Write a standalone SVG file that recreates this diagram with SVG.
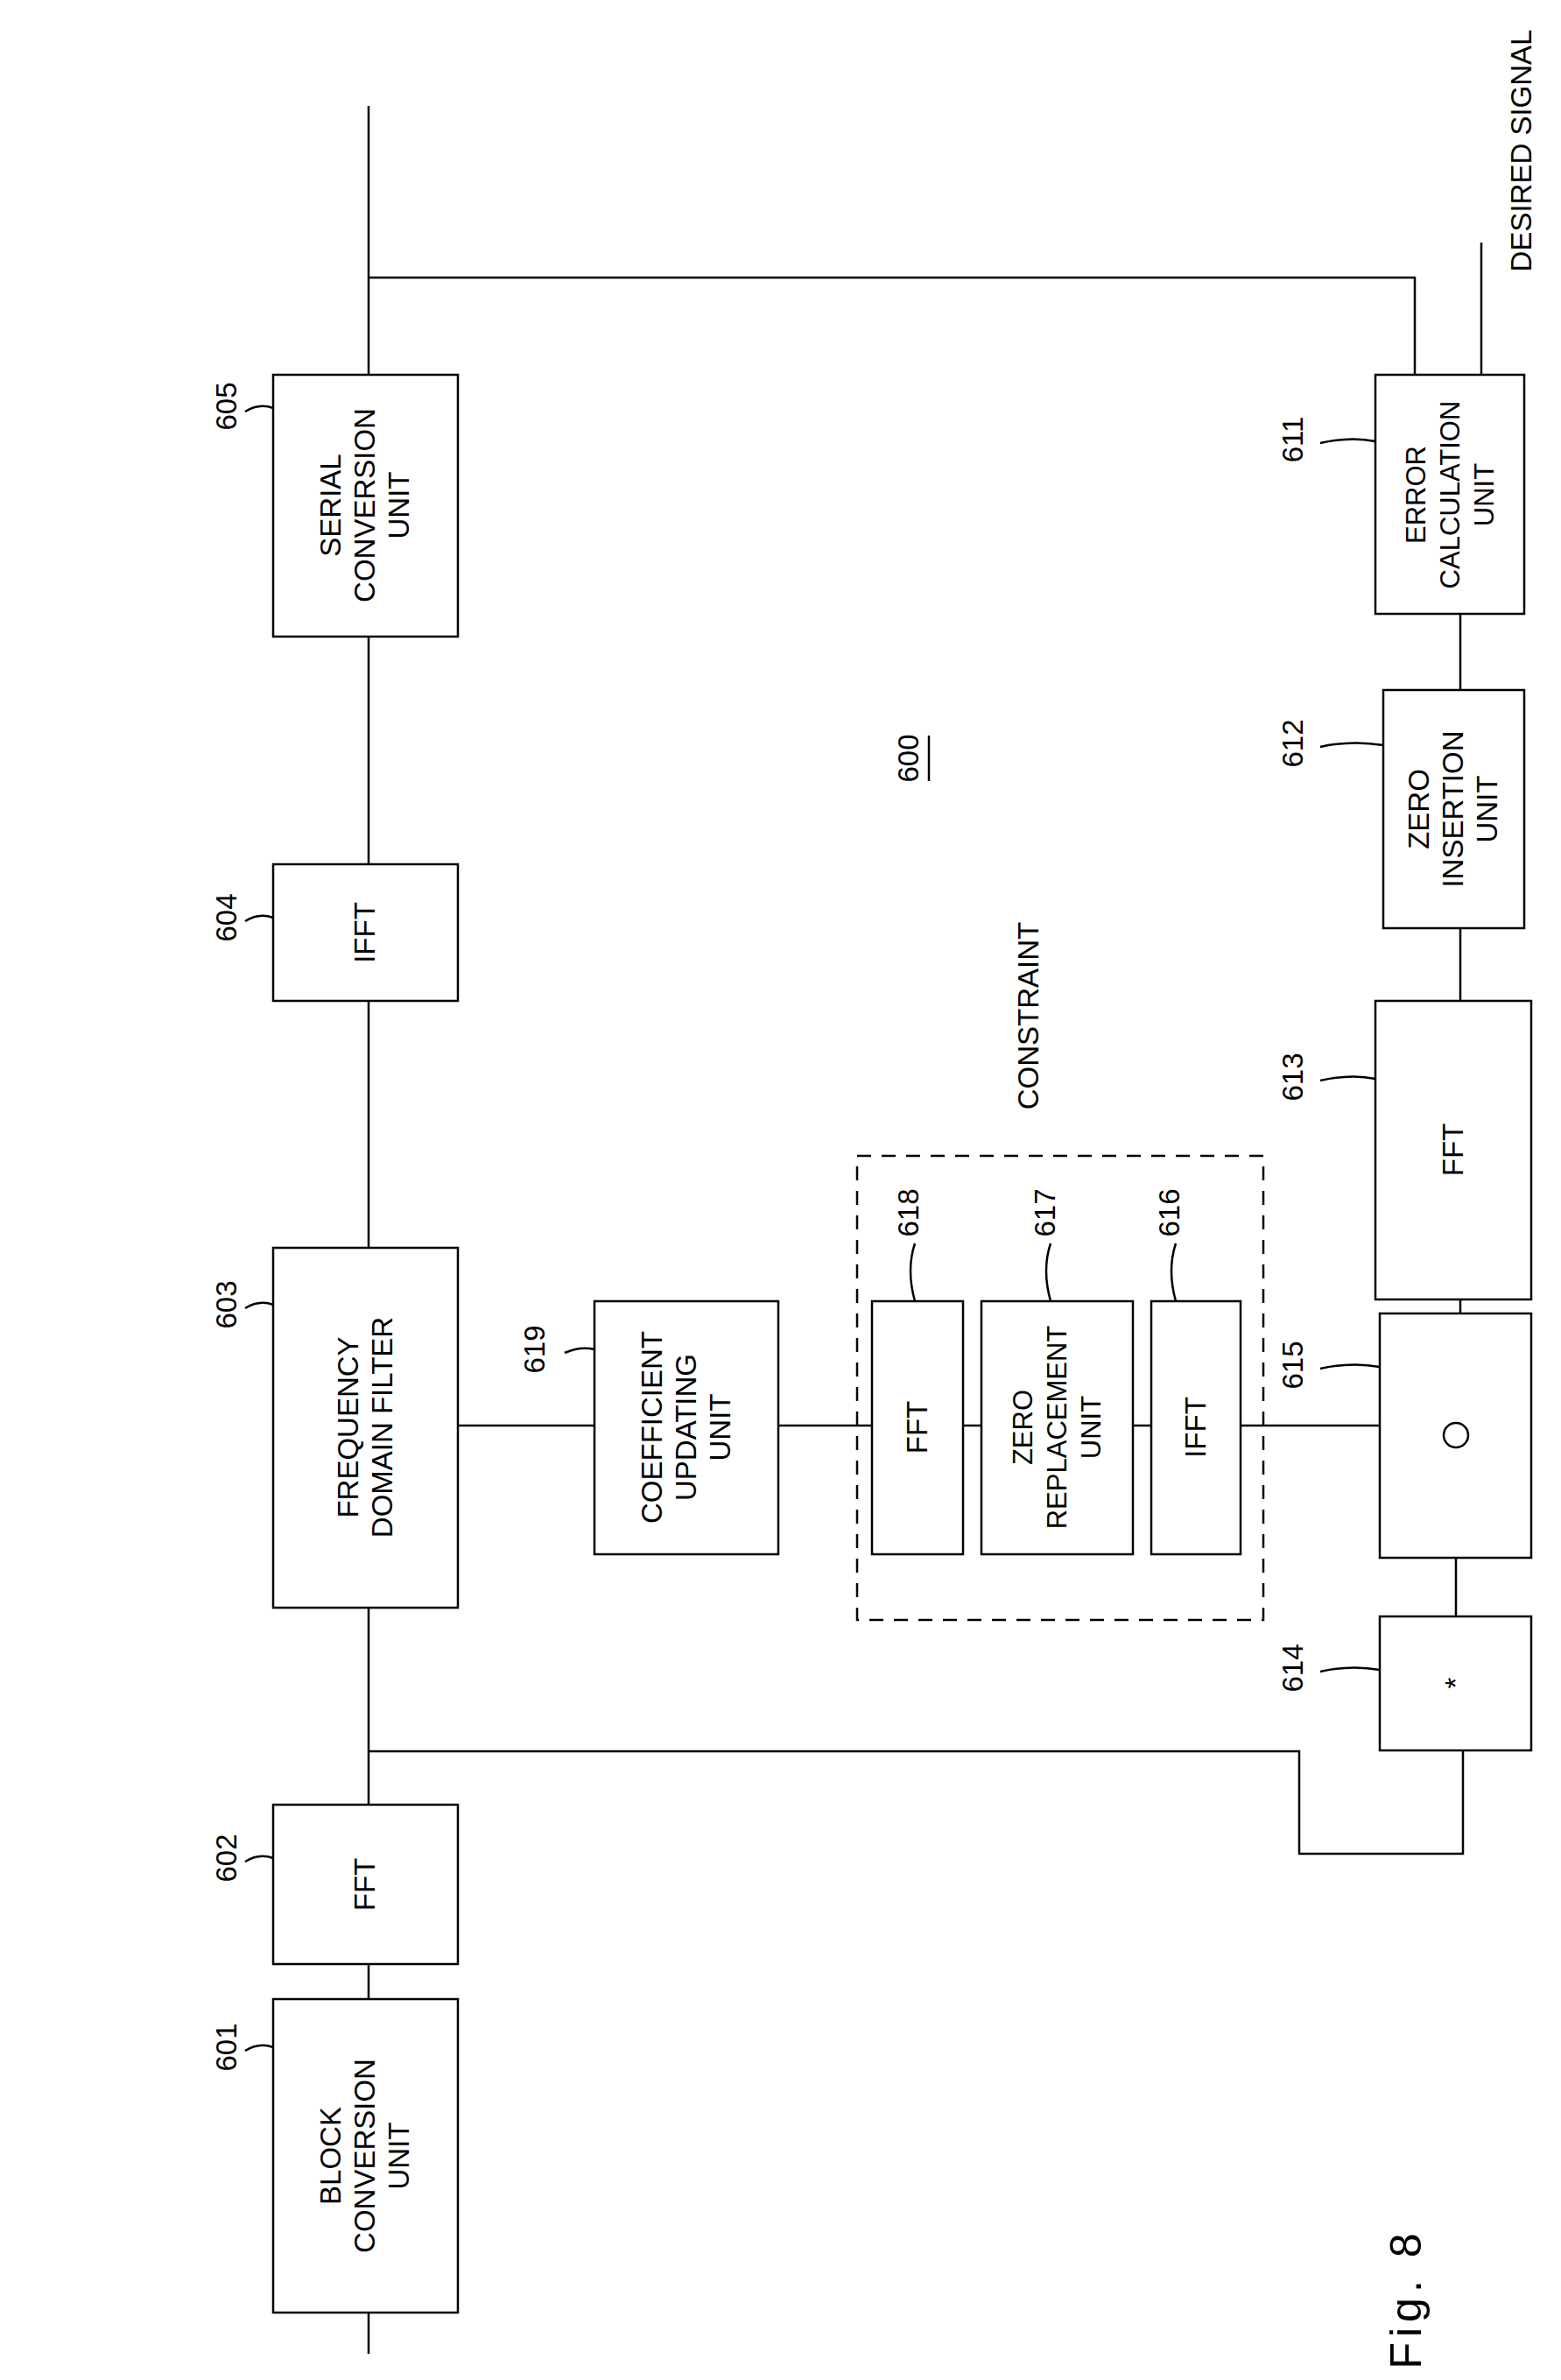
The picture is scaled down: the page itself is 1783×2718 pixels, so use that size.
<svg xmlns="http://www.w3.org/2000/svg" width="1783" height="2718" viewBox="0 0 1783 2718">
<style>
.b{fill:#fff;stroke:#000;stroke-width:2.5}
.l{fill:none;stroke:#000;stroke-width:2.5}
.d{fill:none;stroke:#000;stroke-width:2.5;stroke-dasharray:16 12}
text{font-family:"Liberation Sans",Arial,sans-serif;font-size:33px;text-anchor:middle}
.n{font-size:33px}
</style>
<rect width="1783" height="2718" fill="#fff"/>
<g id="connectors">
<path class="l" d="M421 121V2688"/>
<path class="l" d="M421 317H1616V428"/>
<path class="l" d="M1692 277V428"/>
<path class="l" d="M523 1628H679M889 1628H996M1100 1628H1121M1294 1628H1315M1417 1628H1576"/>
<path class="l" d="M1668 701V788M1668 1060V1143M1668 1484V1500M1663 1779V1846"/>
<path class="l" d="M421 2000H1484V2117H1671V1999"/>
<path class="l" d="M280 470q16-10 32-4M280 1052q16-10 32-4M280 1494q16-10 32-4M280 2126q16-10 32-4M280 2342q16-10 32-4"/>
<path class="l" d="M645 1545q18-8 34 -4M1508 1563q35-8 68-2M1508 1909q35-8 68-2M1508 1234q35-8 63-2M1508 853q35-8 72-2M1508 506q35-8 63-2"/>
<path class="l" d="M1045 1420q-10 30 0 66M1200 1420q-10 30 0 66M1343 1420q-10 30 0 66"/>
</g>
<g id="n605"><rect class="b" x="312" y="428" width="211" height="299"/><text transform="translate(417,577) rotate(-90)"><tspan x="0" y="-28">SERIAL</tspan><tspan x="0" y="11">CONVERSION</tspan><tspan x="0" y="50">UNIT</tspan></text><text class="n" transform="translate(270,464) rotate(-90)">605</text></g>
<g id="n604"><rect class="b" x="312" y="987" width="211" height="156"/><text transform="translate(417,1065) rotate(-90)" y="11">IFFT</text><text class="n" transform="translate(270,1048) rotate(-90)">604</text></g>
<g id="n603"><rect class="b" x="312" y="1425" width="211" height="411"/><text transform="translate(417,1630) rotate(-90)"><tspan x="0" y="-8">FREQUENCY</tspan><tspan x="0" y="31">DOMAIN FILTER</tspan></text><text class="n" transform="translate(270,1490) rotate(-90)">603</text></g>
<g id="n602"><rect class="b" x="312" y="2061" width="211" height="182"/><text transform="translate(417,2152) rotate(-90)" y="11">FFT</text><text class="n" transform="translate(270,2122) rotate(-90)">602</text></g>
<g id="n601"><rect class="b" x="312" y="2283" width="211" height="358"/><text transform="translate(417,2462) rotate(-90)"><tspan x="0" y="-28">BLOCK</tspan><tspan x="0" y="11">CONVERSION</tspan><tspan x="0" y="50">UNIT</tspan></text><text class="n" transform="translate(270,2338) rotate(-90)">601</text></g>
<g id="n619"><rect class="b" x="679" y="1486" width="210" height="289"/><text transform="translate(784,1630) rotate(-90)"><tspan x="0" y="-28">COEFFICIENT</tspan><tspan x="0" y="11">UPDATING</tspan><tspan x="0" y="50">UNIT</tspan></text><text class="n" transform="translate(622,1541) rotate(-90)">619</text></g>
<g id="constraint"><rect class="d" x="979" y="1320" width="464" height="530"/><text transform="translate(1175,1160) rotate(-90)" y="11">CONSTRAINT</text></g>
<g id="n618"><rect class="b" x="996" y="1486" width="104" height="289"/><text transform="translate(1048,1630) rotate(-90)" y="11">FFT</text><text class="n" transform="translate(1049,1385) rotate(-90)">618</text></g>
<g id="n617"><rect class="b" x="1121" y="1486" width="173" height="289"/><text transform="translate(1207,1630) rotate(-90)" style="font-size:31px"><tspan x="0" y="-28">ZERO</tspan><tspan x="0" y="11">REPLACEMENT</tspan><tspan x="0" y="50">UNIT</tspan></text><text class="n" transform="translate(1205,1385) rotate(-90)">617</text></g>
<g id="n616"><rect class="b" x="1315" y="1486" width="102" height="289"/><text transform="translate(1366,1630) rotate(-90)" y="11">IFFT</text><text class="n" transform="translate(1347,1385) rotate(-90)">616</text></g>
<g id="n615"><rect class="b" x="1576" y="1500" width="173" height="279"/><circle cx="1663" cy="1639" r="14" class="l"/><text class="n" transform="translate(1488,1559) rotate(-90)">615</text></g>
<g id="n614"><rect class="b" x="1576" y="1846" width="173" height="153"/><text transform="translate(1663,1922) rotate(-90)" y="11">*</text><text class="n" transform="translate(1488,1905) rotate(-90)">614</text></g>
<g id="n613"><rect class="b" x="1571" y="1143" width="178" height="341"/><text transform="translate(1660,1313) rotate(-90)" y="11">FFT</text><text class="n" transform="translate(1488,1230) rotate(-90)">613</text></g>
<g id="n612"><rect class="b" x="1580" y="788" width="161" height="272"/><text transform="translate(1660,924) rotate(-90)"><tspan x="0" y="-28">ZERO</tspan><tspan x="0" y="11">INSERTION</tspan><tspan x="0" y="50">UNIT</tspan></text><text class="n" transform="translate(1488,849) rotate(-90)">612</text></g>
<g id="n611"><rect class="b" x="1571" y="428" width="170" height="273"/><text transform="translate(1656,565) rotate(-90)" style="font-size:31px"><tspan x="0" y="-28">ERROR</tspan><tspan x="0" y="11">CALCULATION</tspan><tspan x="0" y="50">UNIT</tspan></text><text class="n" transform="translate(1488,502) rotate(-90)">611</text></g>
<text transform="translate(1738,172) rotate(-90)" y="11">DESIRED SIGNAL</text>
<g id="t600"><text class="n" transform="translate(1049,866) rotate(-90)">600</text><path class="l" d="M1061 840V892"/></g>
<text transform="translate(1605,2625) rotate(-90)" y="18" style="font-size:50px;letter-spacing:6px">Fig. 8</text>
</svg>
